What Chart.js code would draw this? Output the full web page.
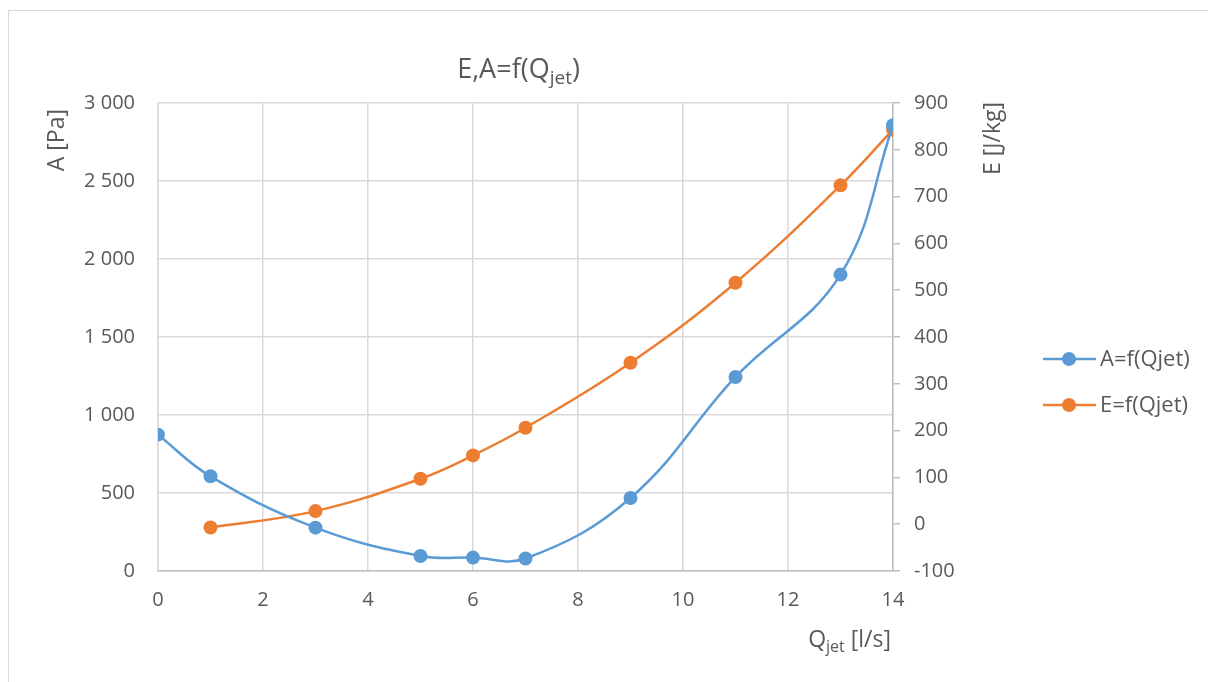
<!DOCTYPE html>
<html>
<head>
<meta charset="utf-8">
<script src="https://cdn.jsdelivr.net/npm/chart.js@4/dist/chart.umd.min.js"></script>
<style>
  html, body { margin: 0; padding: 0; background: #fff; }
  #wrap { width: 1208px; height: 682px; position: relative; }
</style>
</head>
<body>
<div id="wrap"><canvas id="chart" width="1208" height="682"></canvas></div>
<script>
// values
const qA = [0, 1, 3, 5, 6, 7, 9, 11, 13, 14];
const aValues = [874, 607, 278, 96, 86, 80, 468, 1244, 1900, 2857];
const qE = [1, 3, 5, 6, 7, 9, 11, 13, 14];
const eValues = [-7, 28, 97, 147, 206, 345, 516, 724, 843];
const xTicks = [0, 2, 4, 6, 8, 10, 12, 14];
const seriesNames = ['A=f(Qjet)', 'E=f(Qjet)'];

const BLUE = '#5B9BD5';
const ORANGE = '#ED7D31';
const TXT = '#595959';
const FONT = '"Open Sans", Lato, sans-serif';

function toPoints(xs, ys) {
  return xs.map((x, i) => ({ x: x, y: ys[i] }));
}

function fmtThousands(v) {
  return String(v).replace(/\B(?=(\d{3})+(?!\d))/g, ' ');
}

// draws title, axis titles (with subscripts), legend and the outer frame
const extras = {
  id: 'extras',
  afterDraw(chart) {
    const ctx = chart.ctx;
    const area = chart.chartArea;
    ctx.save();
    ctx.fillStyle = TXT;

    // frame
    ctx.strokeStyle = '#d9d9d9';
    ctx.lineWidth = 1;
    ctx.strokeRect(8.5, 10.5, 1300, 800);

    // title E,A=f(Q_jet)
    ctx.textBaseline = 'alphabetic';
    ctx.textAlign = 'left';
    const big = '27px ' + FONT, small = '19px ' + FONT;
    const parts = [['E,A=f(Q', big, 0], ['jet', small, 6], [')', big, 0]];
    let w = 0;
    parts.forEach(p => { ctx.font = p[1]; w += ctx.measureText(p[0]).width; });
    let x = (area.left + area.right) / 2 - w / 2 - 7;
    parts.forEach(p => {
      ctx.font = p[1];
      ctx.fillText(p[0], x, 78 + p[2]);
      x += ctx.measureText(p[0]).width;
    });

    // x axis title Q_jet [l/s], right aligned to chart area
    const xparts = [['Q', '23px ' + FONT, 0], ['jet', '16px ' + FONT, 5], [' [l/s]', '23px ' + FONT, 0]];
    w = 0;
    xparts.forEach(p => { ctx.font = p[1]; w += ctx.measureText(p[0]).width; });
    x = area.right - w - 2;
    xparts.forEach(p => {
      ctx.font = p[1];
      ctx.fillText(p[0], x, 647 + p[2]);
      x += ctx.measureText(p[0]).width;
    });

    // y axis titles, both reading bottom to top, aligned at top
    ctx.font = '23px ' + FONT;
    ctx.textAlign = 'right';
    ctx.textBaseline = 'middle';
    [['A [Pa]', 57, 109], ['E [J/kg]', 993, 102]].forEach(t => {
      ctx.save();
      ctx.translate(t[1], t[2]);
      ctx.rotate(-Math.PI / 2);
      ctx.fillText(t[0], 0, 0);
      ctx.restore();
    });

    // legend: line with marker
    ctx.textAlign = 'left';
    ctx.font = '22px ' + FONT;
    [[BLUE, 359], [ORANGE, 405]].forEach((l, i) => {
      ctx.strokeStyle = l[0];
      ctx.lineWidth = 2.5;
      ctx.beginPath();
      ctx.moveTo(1043, l[1]);
      ctx.lineTo(1096, l[1]);
      ctx.stroke();
      ctx.fillStyle = l[0];
      ctx.beginPath();
      ctx.arc(1069, l[1], 7, 0, Math.PI * 2);
      ctx.fill();
      ctx.fillStyle = TXT;
      ctx.fillText(seriesNames[i], 1100, l[1] + 1);
    });
    ctx.restore();
  }
};

const ctx = document.getElementById('chart').getContext('2d');
const myChart = new Chart(ctx, {
  type: 'line',
  data: {
    datasets: [{
      label: seriesNames[0],
      data: toPoints(qA, aValues),
      borderColor: BLUE,
      backgroundColor: BLUE,
      borderWidth: 2.5,
      pointRadius: 7,
      pointHoverRadius: 7,
      pointBorderWidth: 0,
      tension: 0.4,
      yAxisID: 'yA'
    }, {
      label: seriesNames[1],
      data: toPoints(qE, eValues),
      borderColor: ORANGE,
      backgroundColor: ORANGE,
      borderWidth: 2.5,
      pointRadius: 7,
      pointHoverRadius: 7,
      pointBorderWidth: 0,
      tension: 0.4,
      yAxisID: 'yE'
    }]
  },
  options: {
    responsive: false,
    animation: false,
    layout: { padding: { left: 73, right: 225, top: 103, bottom: 71 } },
    plugins: {
      legend: { display: false },
      title: { display: false },
      tooltip: { enabled: false }
    },
    scales: {
      x: {
        type: 'linear',
        min: 0,
        max: 14,
        afterBuildTicks: (s) => { s.ticks = xTicks.map(v => ({ value: v })); },
        afterFit: (s) => { s.height = 40; },
        grid: { color: '#d9d9d9', lineWidth: 1.5, drawTicks: false },
        border: { color: '#bfbfbf', width: 1.5 },
        ticks: { color: TXT, font: { family: FONT, size: 20 }, padding: 17 }
      },
      yA: {
        position: 'left',
        min: 0,
        max: 3000,
        afterFit: (s) => { s.width = 85; },
        grid: { color: '#d9d9d9', lineWidth: 1.5, drawTicks: false },
        border: { color: '#d9d9d9', width: 1.5 },
        ticks: {
          stepSize: 500,
          color: TXT,
          font: { family: FONT, size: 20 },
          padding: 23,
          callback: (v) => fmtThousands(v)
        }
      },
      yE: {
        position: 'right',
        min: -100,
        max: 900,
        afterFit: (s) => { s.width = 90; },
        grid: { drawOnChartArea: false, drawTicks: true, tickLength: 7, color: '#bfbfbf', lineWidth: 1.5 },
        border: { color: '#bfbfbf', width: 1.5 },
        ticks: { stepSize: 100, color: TXT, font: { family: FONT, size: 20 }, padding: 14 }
      }
    }
  },
  plugins: [extras]
});
</script>
</body>
</html>
